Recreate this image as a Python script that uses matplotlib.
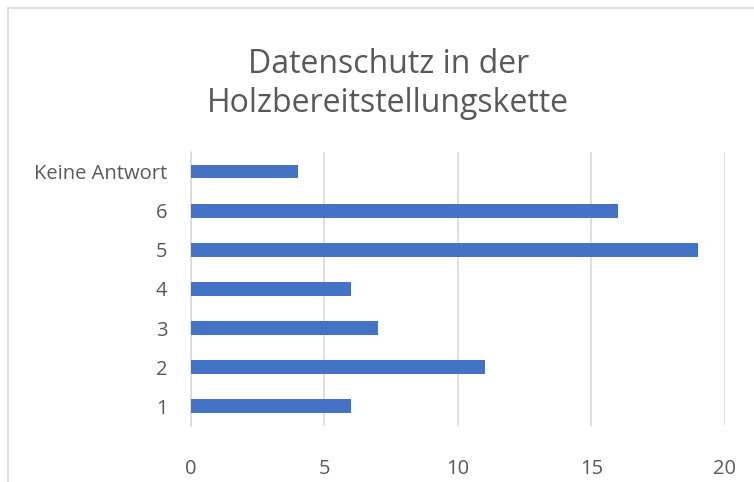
import matplotlib.pyplot as plt
from matplotlib.lines import Line2D

# Kategorien (von unten nach oben) und Werte
categories = ['1', '2', '3', '4', '5', '6', 'Keine Antwort']
values = [6, 11, 7, 6, 19, 16, 4]
x_ticks = [0, 5, 10, 15, 20]

plt.rcParams['font.family'] = ['Open Sans', 'DejaVu Sans']

fig = plt.figure(figsize=(7.54, 4.82), dpi=100)
ax = fig.add_axes([0.2533, 0.117, 0.7082, 0.567])

ax.barh(range(len(categories)), values, height=0.34, color='#4472C4', zorder=3)

ax.set_xlim(0, 20)
ax.set_ylim(-0.5, len(categories) - 0.5)
ax.set_xticks(x_ticks)
ax.set_yticks(range(len(categories)))
ax.set_yticklabels(categories)
ax.tick_params(axis='both', length=0, labelsize=14.5, labelcolor='#595959')
ax.tick_params(axis='x', pad=24)
ax.tick_params(axis='y', pad=17)

ax.grid(axis='x', color='#D9D9D9', linewidth=1.2, zorder=0)
for s in ['top', 'right', 'bottom']:
    ax.spines[s].set_visible(False)
ax.spines['left'].set_color('#D9D9D9')
ax.spines['left'].set_linewidth(1.2)

# Titel
fig.text(0.515, 0.826, 'Datenschutz in der\nHolzbereitstellungskette', ha='center', va='center',
         fontsize=23, color='#595959', linespacing=1.25)

# Rahmen des Diagrammbereichs (oben und links sichtbar)
fig.add_artist(Line2D([8 / 754, 1], [1 - 8 / 482, 1 - 8 / 482], transform=fig.transFigure,
                      color='#D9D9D9', linewidth=1.2))
fig.add_artist(Line2D([8 / 754, 8 / 754], [0, 1 - 8 / 482], transform=fig.transFigure,
                      color='#D9D9D9', linewidth=1.2))

plt.savefig('out.png', dpi=100)
